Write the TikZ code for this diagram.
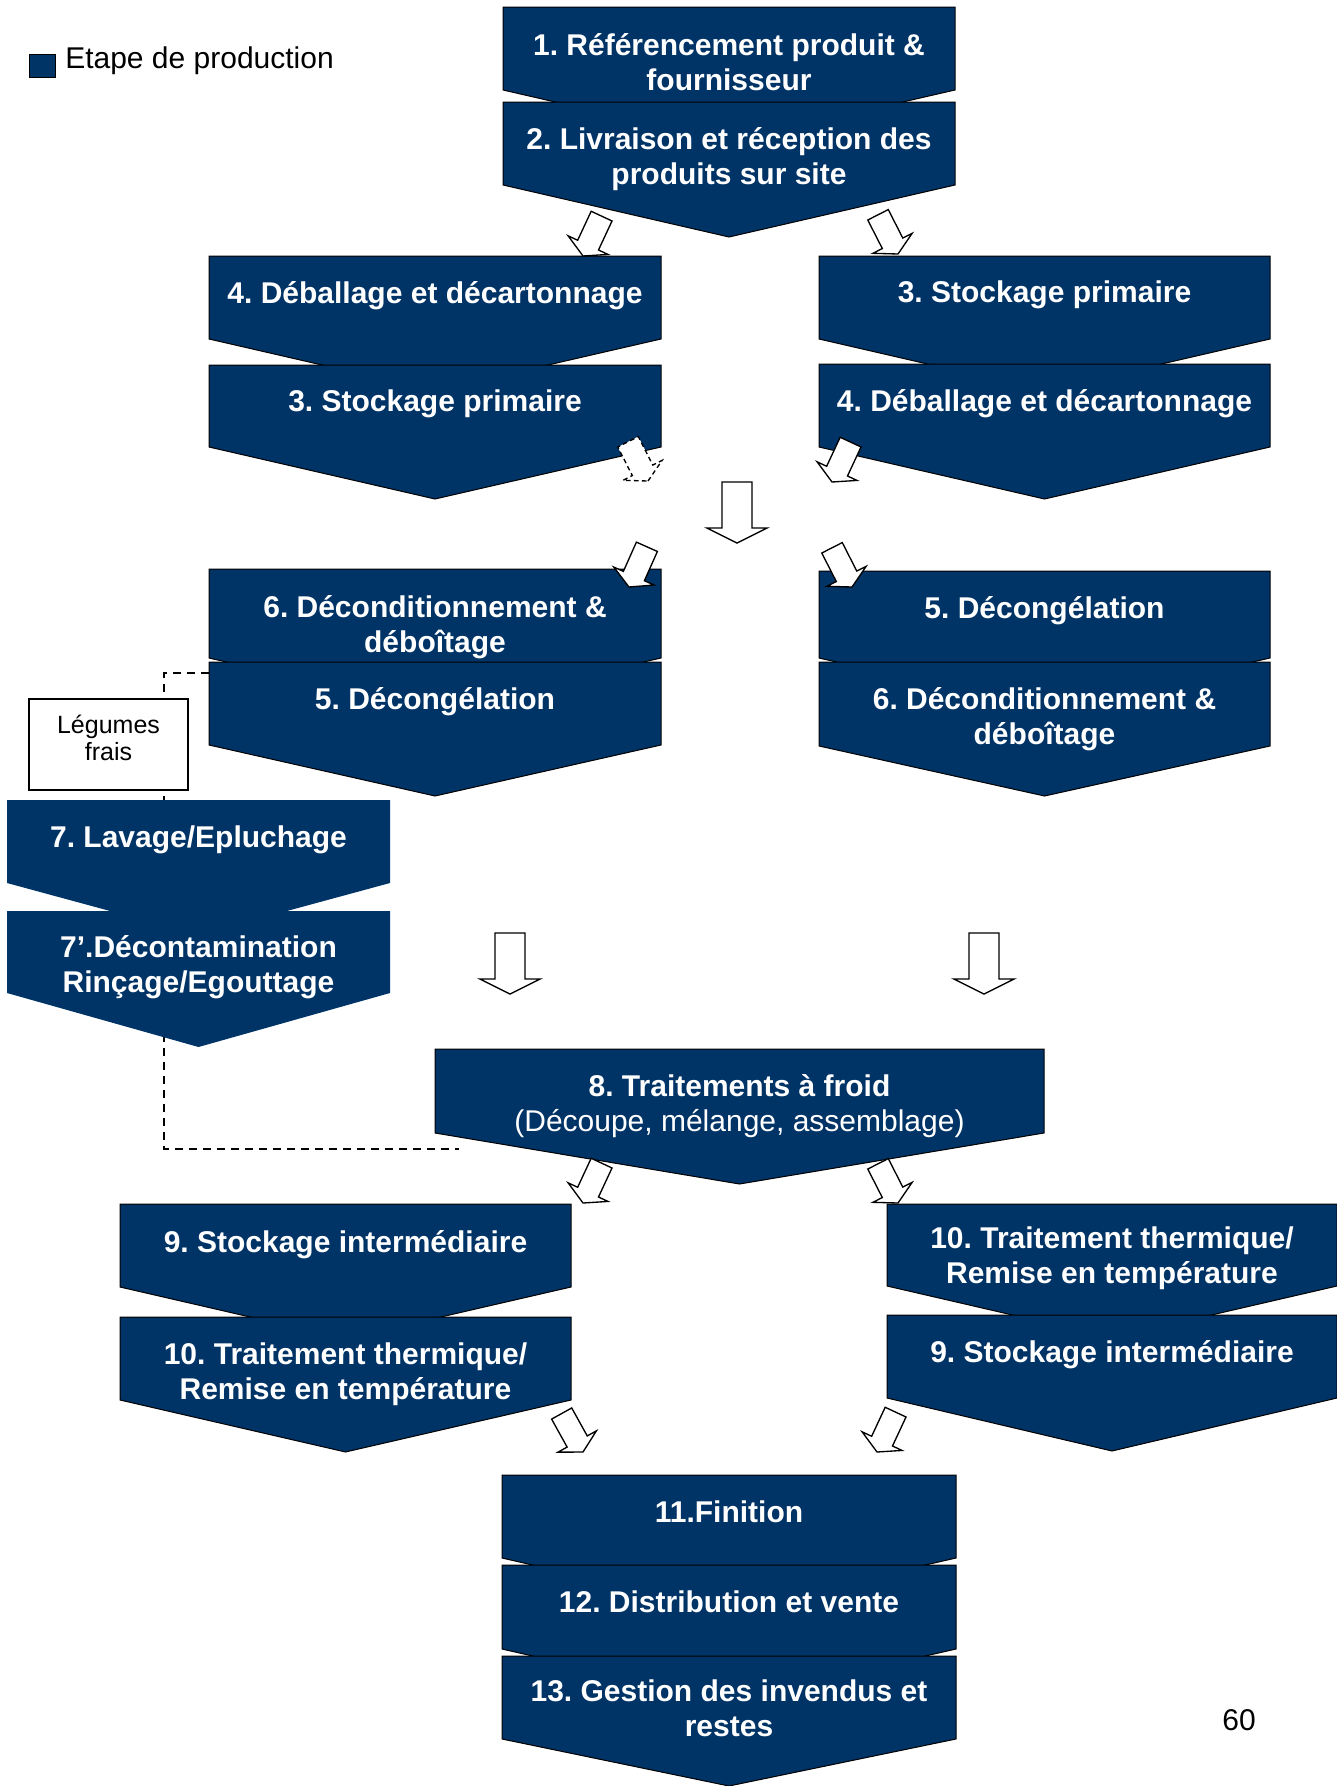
\documentclass[tikz,border=0pt]{standalone}
\usepackage{fontspec}
\setmainfont{Liberation Sans}
\definecolor{navy}{RGB}{0,51,102}
\tikzset{
  chevbox/.style={fill=navy, draw=black, line width=0.75pt, line join=miter},
  chevplain/.style={fill=navy, draw=none},
  steptext/.style={text=white, font=\fontsize{22.5}{26.25}\selectfont\bfseries, align=center, inner sep=0pt, anchor=base},
  hollowarrow/.style={draw=black, fill=white, line width=1pt, line join=miter},
  dashedarrow/.style={hollowarrow, dash pattern=on 3.5pt off 2.5pt},
  dashline/.style={draw=black, line width=0.9pt, dash pattern=on 6pt off 4.5pt},
  legendtext/.style={font=\fontsize{22.5}{26.25}\selectfont, inner sep=0pt},
  notebox/.style={draw=black, fill=white, line width=1pt, inner sep=0pt},
  notetext/.style={inner sep=0pt, align=center, anchor=base, font=\fontsize{18.75}{20.25}\selectfont}
}
\newcommand{\chev}[6]{%
  \path[#1] (#2,#4) -- (#3,#4) -- (#3,#5) -- ({(#2+#3)/2},#6) -- (#2,#5) -- cycle;}
\newcommand{\blkarrowbig}[3]{%
  \path[hollowarrow, shift={(#1,#2)}, rotate=#3] (0,0) -- (30,-15) -- (15,-15) -- (15,-61) -- (-15,-61) -- (-15,-15) -- (-30,-15) -- cycle;}
\newcommand{\blkarrowsmall}[4][hollowarrow]{%
  \path[#1, shift={(#2,#3)}, rotate=#4] (0,0) -- (22,-12) -- (11.5,-12) -- (11.5,-44) -- (-11.5,-44) -- (-11.5,-12) -- (-22,-12) -- cycle;}
\begin{document}
\frenchspacing
\begin{tikzpicture}[x=0.75pt,y=-0.75pt]
\useasboundingbox (0,0) rectangle (1337,1786);

% dashed connector behind everything
\coordinate (d0) at (209,673);
\coordinate (d1) at (164,673);
\coordinate (d3) at (164,1149);
\coordinate (d4) at (459,1149);
\draw[dashline] (d0) -- (d1) -- (d3) -- (d4);

% legend
\node[fill=navy, draw=black, line width=0.75pt, inner sep=0pt, minimum width=19.5pt, minimum height=17.25pt] (legsq) at (42,65.5) {};
\node[legendtext, anchor=base west] (legt) at (65,68) {Etape de production};

% top column
\chev{chevbox}{503}{955}{7}{90}{142}
\node[steptext] (s1) at (729,90) {1. Référencement produit \&\\fournisseur};
\chev{chevbox}{503}{955}{102}{185}{237}
\node[steptext] (s2) at (729,184) {2. Livraison et réception des\\produits sur site};

% left branch
\chev{chevbox}{209}{661}{256}{339}{391}
\node[steptext] (s4l) at (435,303) {4. Déballage et décartonnage};
\chev{chevbox}{209}{661}{365}{447}{499}
\node[steptext] (s3l) at (435,411) {3. Stockage primaire};
% right branch
\chev{chevbox}{819}{1270}{256}{339}{391}
\node[steptext] (s3r) at (1044.5,302) {3. Stockage primaire};
\chev{chevbox}{819}{1270}{364}{447}{499}
\node[steptext] (s4r) at (1044.5,411) {4. Déballage et décartonnage};

\chev{chevbox}{209}{661}{569}{658}{710}
\node[steptext] (s6l) at (435,652) {6. Déconditionnement \&\\déboîtage};
\chev{chevbox}{209}{661}{662}{745}{796}
\node[steptext] (s5l) at (435,709) {5. Décongélation};
\chev{chevbox}{819}{1270}{571}{658}{710}
\node[steptext] (s5r) at (1044.5,618) {5. Décongélation};
\chev{chevbox}{819}{1270}{662}{746}{796}
\node[steptext] (s6r) at (1044.5,744) {6. Déconditionnement \&\\déboîtage};

% fresh vegetables
\node[notebox, minimum width=119.25pt, minimum height=68.25pt] (leg) at (108.5,744.5) {};
\node[notetext] (legtxt) at (108.5,760) {Légumes\\frais};
\chev{chevplain}{7}{390}{800}{883}{935}
\node[steptext] (s7) at (198.5,847) {7. Lavage/Epluchage};
\chev{chevplain}{7}{390}{911}{993}{1047}
\node[steptext] (s7b) at (198.5,992) {7’.Décontamination\\Rinçage/Egouttage};

% cold processing
\chev{chevbox}{435}{1044}{1049}{1133}{1184}
\node[steptext] (s8) at (739.5,1131) {8. Traitements à froid\\{\mdseries (Découpe, mélange, assemblage)}};

\chev{chevbox}{120}{571}{1204}{1287}{1339}
\node[steptext] (s9l) at (345.5,1252) {9. Stockage intermédiaire};
\chev{chevbox}{120}{571}{1317}{1400}{1452}
\node[steptext] (s10l) at (345.5,1399) {10. Traitement thermique/\\Remise en température};
\chev{chevbox}{887}{1337}{1204}{1286}{1338}
\node[steptext] (s10r) at (1112,1283) {10. Traitement thermique/\\Remise en température};
\chev{chevbox}{887}{1337}{1315}{1398}{1451}
\node[steptext] (s9r) at (1112,1362) {9. Stockage intermédiaire};

% final column
\chev{chevbox}{502}{956}{1475}{1558}{1610}
\node[steptext] (s11) at (729,1522) {11.Finition};
\chev{chevbox}{502}{956}{1565}{1649}{1701}
\node[steptext] (s12) at (729,1612) {12. Distribution et vente};
\chev{chevbox}{502}{956}{1656}{1739}{1786}
\node[steptext] (s13) at (729,1736) {13. Gestion des invendus et\\restes};

% hollow block arrows
\blkarrowsmall{583}{256}{-25}
\blkarrowsmall{898}{254}{27}
\blkarrowsmall[dashedarrow]{648}{481}{27}
\blkarrowsmall{832}{482}{-25}
\blkarrowbig{737}{543}{0}
\blkarrowsmall{629}{587}{-24}
\blkarrowsmall{852}{587}{27}
\blkarrowbig{510}{994}{0}
\blkarrowbig{984}{994}{0}
\blkarrowsmall{583}{1203}{-25}
\blkarrowsmall{898}{1203}{27}
\blkarrowsmall{583}{1452}{29}
\blkarrowsmall{877}{1452}{-25}

% page number
\node[legendtext, anchor=base] (pg) at (1239,1730) {60};
\end{tikzpicture}
\end{document}
